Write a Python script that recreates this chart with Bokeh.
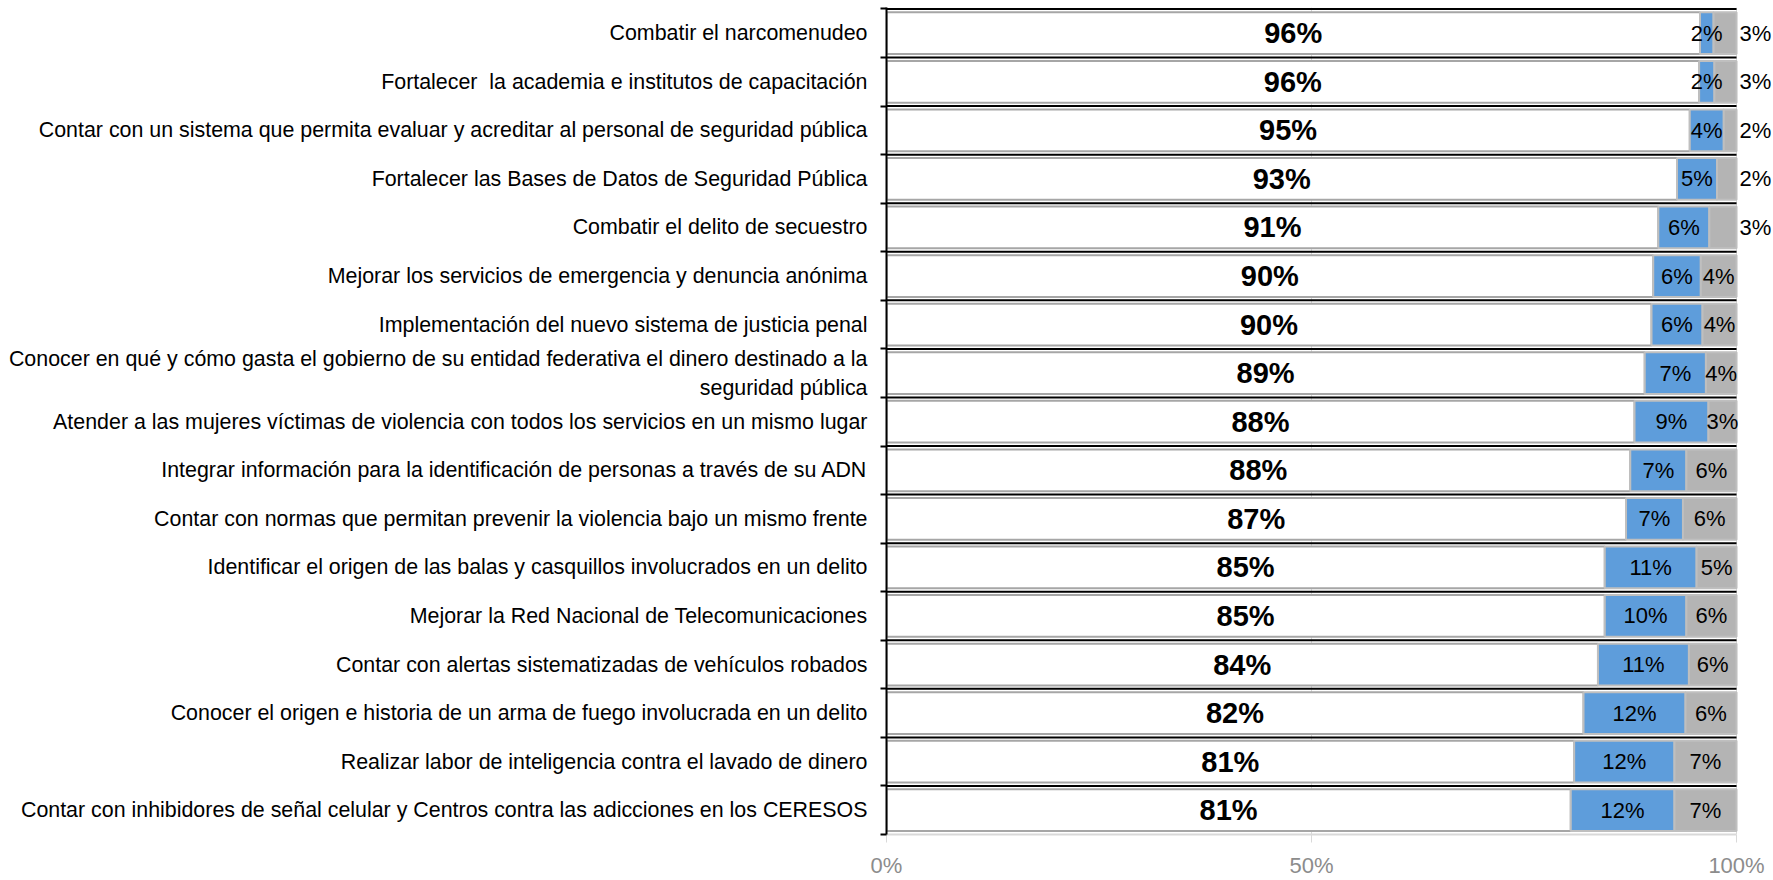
from bokeh.plotting import figure
from bokeh.models import ColumnDataSource, Range1d, FixedTicker
from bokeh.embed import file_html
from bokeh.resources import INLINE
from bokeh.core.properties import value

categories = [
    "Combatir el narcomenudeo",
    "Fortalecer \u00a0la academia e institutos de capacitación",
    "Contar con un sistema que permita evaluar y acreditar al personal de seguridad pública",
    "Fortalecer las Bases de Datos de Seguridad Pública",
    "Combatir el delito de secuestro",
    "Mejorar los servicios de emergencia y denuncia anónima",
    "Implementación del nuevo sistema de justicia penal",
    "Conocer en qué y cómo gasta el gobierno de su entidad federativa el dinero destinado a la\nseguridad pública",
    "Atender a las mujeres víctimas de violencia con todos los servicios en un mismo lugar",
    "Integrar información para la identificación de personas a través de su ADN",
    "Contar con normas que permitan prevenir la violencia bajo un mismo frente",
    "Identificar el origen de las balas y casquillos involucrados en un delito",
    "Mejorar la Red Nacional de Telecomunicaciones",
    "Contar con alertas sistematizadas de vehículos robados",
    "Conocer el origen e historia de un arma de fuego involucrada en un delito",
    "Realizar labor de inteligencia contra el lavado de dinero",
    "Contar con inhibidores de señal celular y Centros contra las adicciones en los CERESOS",
]
# white segment (main share), blue segment, gray segment, in percent
main_pct = [95.7, 95.6, 94.5, 93.0, 90.8, 90.2, 90.0, 89.2, 88.0, 87.5, 87.0, 84.5, 84.5, 83.7, 82.0, 80.9, 80.5]
blue_pct = [1.6, 1.8, 4.0, 4.7, 6.0, 5.6, 6.0, 7.2, 8.7, 6.6, 6.7, 10.8, 9.6, 10.7, 12.0, 11.8, 12.2]
gray_pct = [2.7, 2.6, 1.5, 2.3, 3.2, 4.2, 4.0, 3.6, 3.3, 5.9, 6.3, 4.7, 5.9, 5.6, 6.0, 7.3, 7.3]
x_ticks = [0, 50, 100]
x_tick_labels = ["0%", "50%", "100%"]

FONT = "Liberation Sans"
N = len(categories)
ys = [N - 1 - i for i in range(N)]


def pct(v):
    return f"{int(v + 0.5)}%"


b0 = main_pct
b1 = [a + b for a, b in zip(main_pct, blue_pct)]
b2 = [a + b + c for a, b, c in zip(main_pct, blue_pct, gray_pct)]

src = ColumnDataSource(dict(
    y=ys, zero=[0] * N, b0=b0, b1=b1, b2=b2,
    mid0=[v / 2 for v in b0],
    mid1=[(a + b) / 2 for a, b in zip(b0, b1)],
    lab0=[pct(v) for v in main_pct],
    lab1=[pct(v) for v in blue_pct],
    top=[y + 0.5 for y in ys],
    hundred=[100] * N,
))

gin = [i for i in range(N) if gray_pct[i] >= 3.25]
gout = [i for i in range(N) if gray_pct[i] < 3.25]
src_gin = ColumnDataSource(dict(
    y=[ys[i] for i in gin],
    x=[(b1[i] + b2[i]) / 2 for i in gin],
    t=[pct(gray_pct[i]) for i in gin],
))
src_gout = ColumnDataSource(dict(
    y=[ys[i] for i in gout],
    x=[100] * len(gout),
    t=[pct(gray_pct[i]) for i in gout],
))

p = figure(
    width=1773, height=880,
    min_border_left=886, min_border_right=0, min_border_top=7, min_border_bottom=43,
    x_range=Range1d(0, 104.35), y_range=Range1d(-0.5, N - 0.47),
    output_backend="svg", toolbar_location=None,
)
p.outline_line_color = None
p.background_fill_color = "white"

# grid
p.xgrid.ticker = FixedTicker(ticks=x_ticks)
p.xgrid.grid_line_color = "#D9D9D9"
p.xgrid.grid_line_width = 1
p.ygrid.grid_line_color = None

# bars
BH = 0.86
p.hbar(y="y", left="zero", right="b0", height=BH, source=src,
       fill_color="white", line_color="#A6A6A6", line_width=2)
p.hbar(y="y", left="b0", right="b1", height=BH, source=src,
       fill_color="#5E9DDB", line_color="#BFBFBF", line_width=2)
p.hbar(y="y", left="b1", right="b2", height=BH, source=src,
       fill_color="#B4B4B4", line_color="#BFBFBF", line_width=2)

# separators at the top of each band
p.segment(x0="zero", y0="top", x1="hundred", y1="top", source=src,
          line_color="black", line_width=2)

# labels
p.text(x="mid0", y="y", text="lab0", source=src, text_align="center",
       text_baseline="middle", text_font=value(FONT), text_font_style="bold",
       text_font_size="29px", text_color="black")
p.text(x="mid1", y="y", text="lab1", source=src, text_align="center",
       text_baseline="middle", text_font=value(FONT),
       text_font_size="22px", text_color="black")
p.text(x="x", y="y", text="t", source=src_gin, text_align="center",
       text_baseline="middle", text_font=value(FONT),
       text_font_size="22px", text_color="black")
p.text(x="x", y="y", text="t", source=src_gout, text_align="left",
       text_baseline="middle", text_font=value(FONT), x_offset=3,
       text_font_size="22px", text_color="black")

# y axis
yax = p.yaxis[0]
yax.ticker = FixedTicker(ticks=ys, minor_ticks=[y + 0.5 for y in ys] + [-0.5])
yax.major_label_overrides = {y: c for y, c in zip(ys, categories)}
yax.major_tick_out = 0
yax.major_tick_in = 0
yax.minor_tick_out = 6
yax.minor_tick_in = 0
yax.minor_tick_line_color = "black"
yax.minor_tick_line_width = 2
yax.axis_line_color = "black"
yax.axis_line_width = 2
yax.major_label_standoff = 13
yax.major_label_text_font = FONT
yax.major_label_text_font_size = "21.4px"
yax.major_label_text_color = "black"

# x axis
xax = p.xaxis[0]
xax.ticker = FixedTicker(ticks=x_ticks)
xax.major_label_overrides = {t: l for t, l in zip(x_ticks, x_tick_labels)}
xax.bounds = (0, 100)
xax.axis_line_color = "#D9D9D9"
xax.axis_line_width = 2
xax.major_tick_line_color = "#D9D9D9"
xax.major_tick_out = 8
xax.major_tick_in = 0
xax.minor_tick_line_color = None
xax.major_label_standoff = 10
xax.major_label_text_font = FONT
xax.major_label_text_font_size = "22px"
xax.major_label_text_color = "#8C8C8C"

open("out.html", "w").write(file_html(p, INLINE))
